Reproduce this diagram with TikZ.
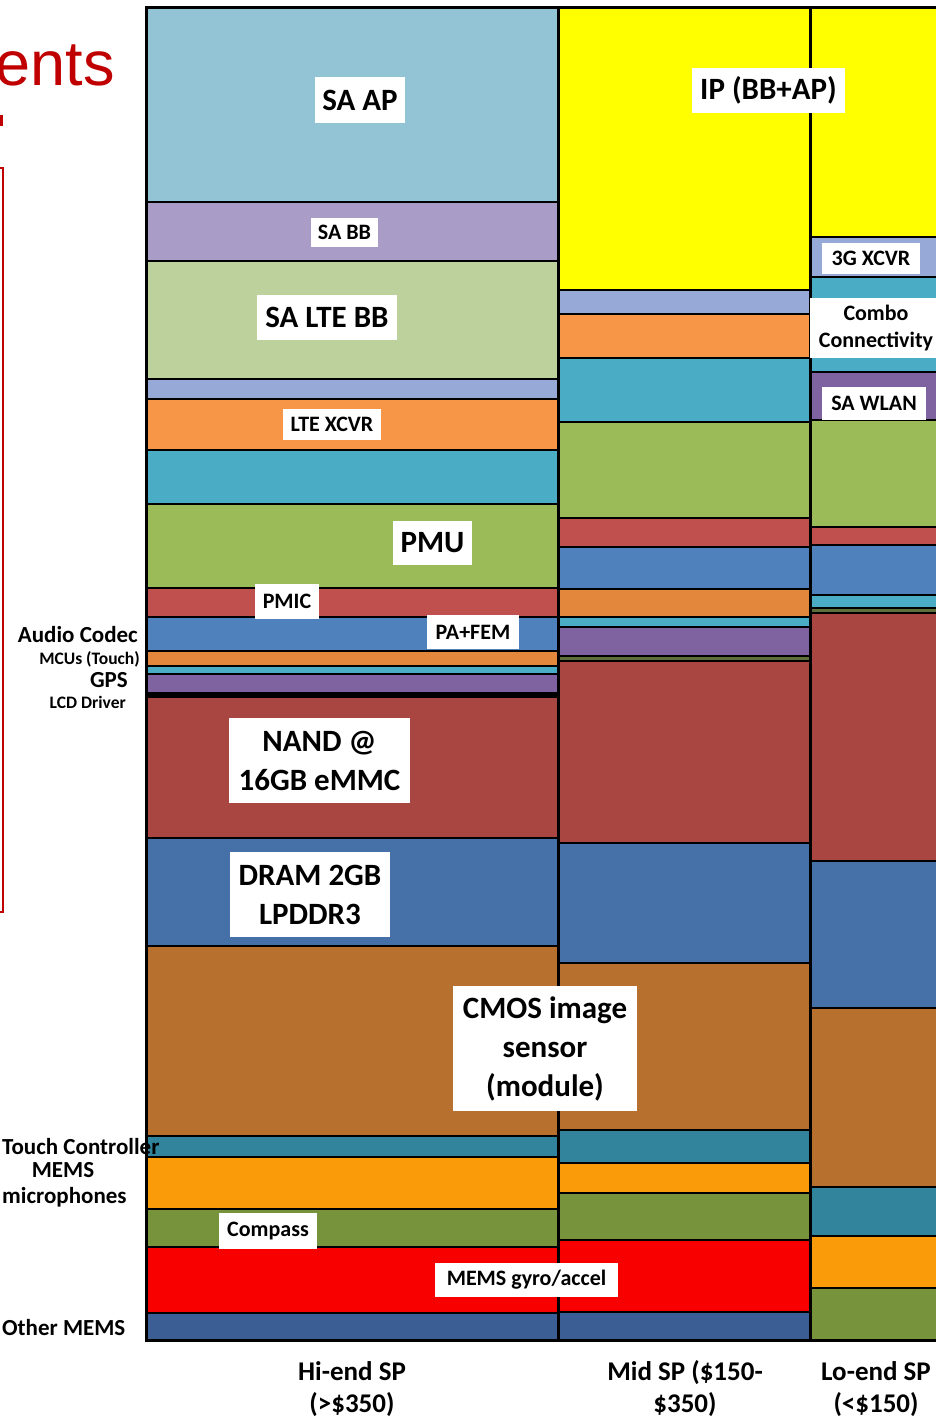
\documentclass[tikz,border=0pt]{standalone}
\usepackage{fontspec}
\setmainfont{Carlito}
\newfontfamily\arialfont{Liberation Sans}
\usetikzlibrary{positioning}
\definecolor{FigRed}{HTML}{C00000}
\definecolor{SkyAP}{HTML}{93C4D5}
\definecolor{Lavender}{HTML}{A99CC6}
\definecolor{PaleGreen}{HTML}{BCD19B}
\definecolor{Periwinkle}{HTML}{96A9D7}
\definecolor{Orange}{HTML}{F79646}
\definecolor{DarkOrange}{HTML}{E2873B}
\definecolor{Teal}{HTML}{4BACC6}
\definecolor{Green}{HTML}{9BBB59}
\definecolor{Red}{HTML}{C0504D}
\definecolor{Blue}{HTML}{4F81BD}
\definecolor{Purple}{HTML}{7F63A1}
\definecolor{Maroon}{HTML}{A94642}
\definecolor{Steel}{HTML}{4571A8}
\definecolor{Brown}{HTML}{B8702F}
\definecolor{SeaTeal}{HTML}{31849B}
\definecolor{Amber}{HTML}{FA9B0A}
\definecolor{Olive}{HTML}{77933C}
\definecolor{BrightRed}{HTML}{F80000}
\definecolor{Navy}{HTML}{3B5F94}
\definecolor{ChipYellow}{HTML}{FFFF00}
\definecolor{ThinOlive}{HTML}{5F6F3A}

\begin{document}
\begin{tikzpicture}[x=1pt,y=-1pt,line join=miter,
  band/.style={draw=black,line width=2pt},
  tag/.style={fill=white,inner sep=0pt,align=center,font=\bfseries\fontsize{22}{27}\selectfont},
  bigtag/.style={tag,font=\bfseries\fontsize{31}{39}\selectfont},
  side/.style={inner sep=0pt,font=\bfseries\fontsize{23}{26}\selectfont},
  sidesmall/.style={inner sep=0pt,font=\bfseries\fontsize{17.5}{20}\selectfont},
  segment/.style={inner sep=0pt,align=center,font=\bfseries\fontsize{27}{32}\selectfont}]
  \useasboundingbox (0,0) rectangle (936,1419);
  % column edges
  \def\xa{146} \def\xb{558} \def\xc{810} \def\xd{946}
  % Hi-end column
  \foreach \ya/\yb/\clr in {7/202/SkyAP,202/261/Lavender,261/379/PaleGreen,379/399/Periwinkle,
      399/450/Orange,450/504/Teal,504/588/Green,588/617/Red,617/651/Blue,651/666/DarkOrange,
      666/674/Teal,674/693/Purple,693/697/black,697/838/Maroon,838/946/Steel,946/1136/Brown,
      1136/1157/SeaTeal,1157/1209/Amber,1209/1247/Olive,1247/1313/BrightRed,1313/1340/Navy}
    \filldraw[band,fill=\clr] (\xa,\ya) rectangle (\xb,\yb);
  % Mid column
  \foreach \ya/\yb/\clr in {7/290/ChipYellow,290/314/Periwinkle,314/358/Orange,358/422/Teal,
      422/518/Green,518/547/Red,547/589/Blue,589/617/DarkOrange,617/627/Teal,627/656/Purple,
      656/661/ThinOlive,661/843/Maroon,843/963/Steel,963/1130/Brown,1130/1163/SeaTeal,
      1163/1193/Amber,1193/1240/Olive,1240/1312/BrightRed,1312/1340/Navy}
    \filldraw[band,fill=\clr] (\xb,\ya) rectangle (\xc,\yb);
  % Lo-end column
  \foreach \ya/\yb/\clr in {7/237/ChipYellow,237/277/Periwinkle,277/372/Teal,372/420/Purple,
      420/527/Green,527/545/Red,545/595/Blue,595/608/Teal,608/613/ThinOlive,613/861/Maroon,
      861/1008/Steel,1008/1187/Brown,1187/1236/SeaTeal,1236/1288/Amber,1288/1340/Olive}
    \filldraw[band,fill=\clr] (\xc,\ya) rectangle (\xd,\yb);
  \foreach \xl/\xr in {\xa/\xb,\xb/\xc,\xc/\xd}
    \draw[line width=3pt] (\xl,7) rectangle (\xr,1340);

  % labels on the bands
  \node[bigtag,minimum width=90,minimum height=46] (saap) at (360,100) {SA AP};
  \node[tag,minimum width=67,minimum height=29] (sabb) at (344.5,232.5) {SA BB};
  \node[bigtag,minimum width=140,minimum height=45] (salte) at (327,317.5) {SA LTE BB};
  \node[tag,minimum width=98,minimum height=31] (ltexcvr) at (332,424.5) {LTE XCVR};
  \node[bigtag,minimum width=79,minimum height=44] (pmu) at (432.5,543) {PMU};
  \node[tag,minimum width=64,minimum height=35] (pmic) at (287,601.5) {PMIC};
  \node[tag,minimum width=92,minimum height=34] (pafem) at (473,632) {PA+FEM};
  \node[bigtag,minimum width=181,minimum height=85] (nand) at (319.5,760.5) {NAND @\\16GB eMMC};
  \node[bigtag,minimum width=160,minimum height=85] (dram) at (310,894.5) {DRAM 2GB\\LPDDR3};
  \node[bigtag,minimum width=184,minimum height=125] (cmos) at (545,1048.5) {CMOS image\\sensor\\(module)};
  \node[tag,minimum width=98,minimum height=36] (compass) at (268,1231) {Compass};
  \node[tag,minimum width=183,minimum height=34] (gyro) at (526.5,1280) {MEMS gyro/accel};
  \node[bigtag,minimum width=153,minimum height=45] (ip) at (768.5,90.5) {IP (BB+AP)};
  \node[tag,minimum width=98,minimum height=31] (xcvr3g) at (871,258.5) {3G XCVR};
  \node[tag,minimum width=132,minimum height=60] (combo) at (876,328) {Combo\\Connectivity};
  \node[tag,minimum width=104,minimum height=33] (wlan) at (874,403.5) {SA WLAN};

  % labels beside the Hi-end column
  \node[side,anchor=east] (codec) at (138,635) {Audio Codec};
  \node[sidesmall,anchor=east] (mcu) at (140,659) {MCUs (Touch)};
  \node[side,anchor=east] (gps) at (128,680) {GPS};
  \node[sidesmall,anchor=east] (lcd) at (126,702) {LCD Driver};
  \node[side,anchor=west] (touch) at (2,1147) {Touch Controller};
  \node[side] (mems) at (63,1170) {MEMS};
  \node[side,anchor=west] (mics) at (2,1197) {microphones};
  \node[side,anchor=west] (other) at (2,1327) {Other MEMS};

  % segment names
  \node[segment] (hiend) at (352,1389) {Hi-end SP\\(>\$350)};
  \node[segment] (midsp) at (685,1389) {Mid SP (\$150-\\\$350)};
  \node[segment] (loend) at (876,1389) {Lo-end SP\\(<\$150)};

  % slide remnants on the left
  \node[anchor=base east,inner sep=0pt,text=FigRed,font=\arialfont\fontsize{63}{63}\selectfont] (title) at (115,85) {ents};
  \fill[FigRed] (0,115) rectangle (3,126);
  \draw[FigRed,line width=1.5pt] (-5,168) -- (3,168) -- (3,912) -- (-5,912);
\end{tikzpicture}
\end{document}
